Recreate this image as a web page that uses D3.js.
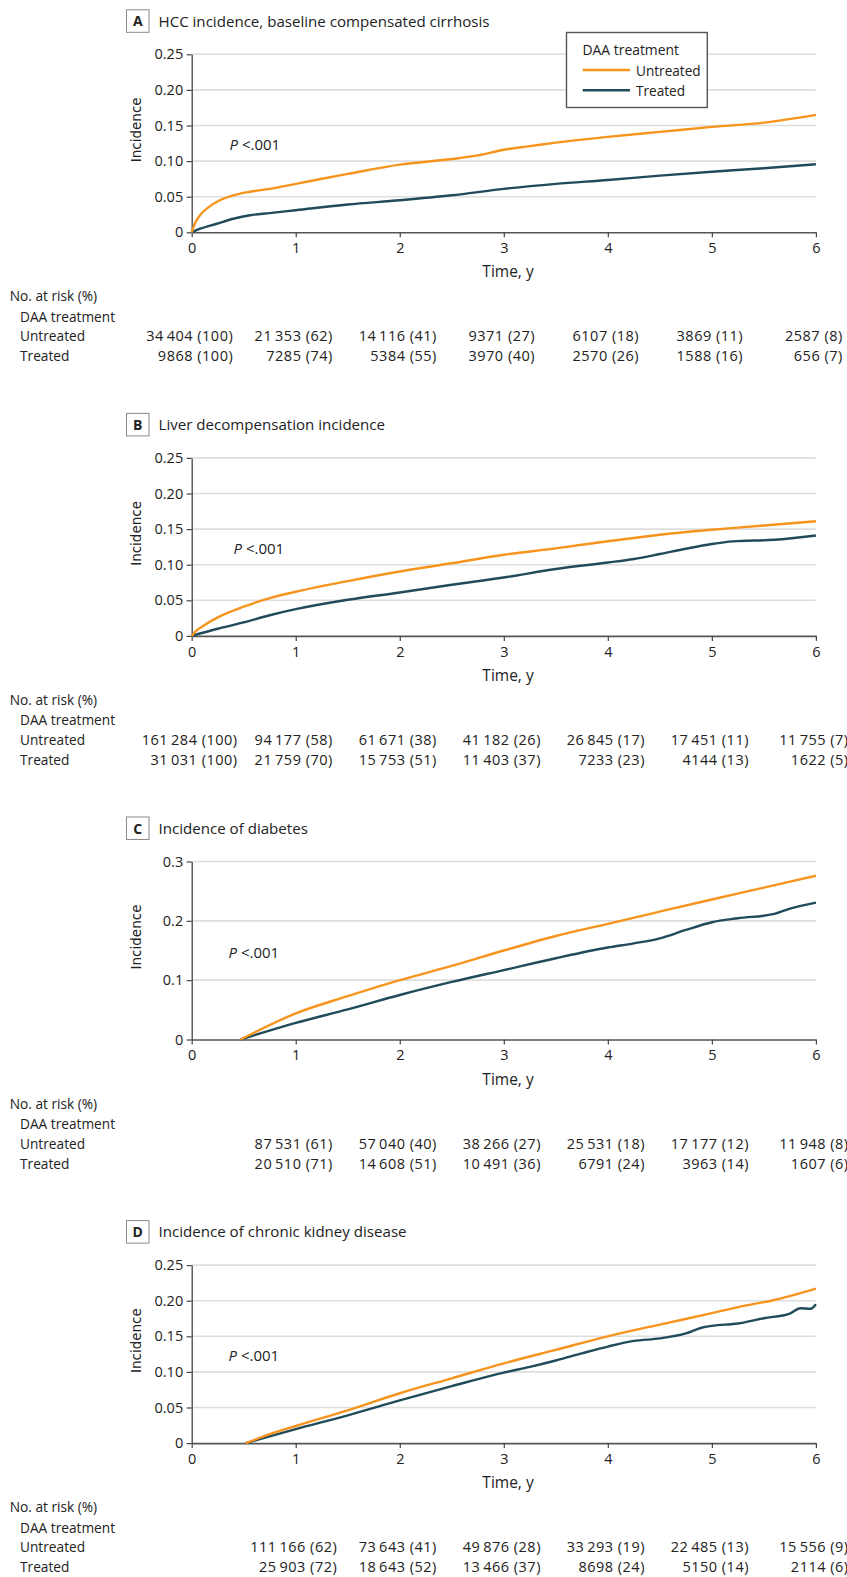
<!DOCTYPE html>
<html>
<head>
<meta charset="utf-8">
<script src="https://cdn.jsdelivr.net/npm/d3@7"></script>
<style>
  html, body { margin: 0; padding: 0; background: #fff; }
  svg text { font-family: "Open Sans", "Noto Sans", sans-serif; fill: #222; }
</style>
</head>
<body>
<script>
// ---------- DATA ----------
const timeTicks = [0, 1, 2, 3, 4, 5, 6];
const seriesNames = ["Untreated", "Treated"];

// Panel A: HCC incidence, baseline compensated cirrhosis
const hccUntreated = [[0,0],[0.03,0.012],[0.08,0.024],[0.16,0.035],[0.27,0.045],[0.4,0.052],[0.56,0.057],[0.75,0.061],[1,0.068],[1.5,0.082],[2,0.095],[2.5,0.103],[2.75,0.108],[3,0.116],[3.25,0.121],[3.5,0.126],[4,0.134],[4.5,0.141],[5,0.148],[5.5,0.154],[6,0.165]];
const hccTreated = [[0,0],[0.08,0.005],[0.24,0.012],[0.4,0.019],[0.56,0.024],[0.75,0.027],[1,0.031],[1.5,0.039],[2,0.045],[2.5,0.052],[3,0.061],[3.5,0.068],[4,0.0735],[4.5,0.0796],[5,0.085],[5.5,0.090],[6,0.0955]];
const hccRiskUntreated = [[34404,100],[21353,62],[14116,41],[9371,27],[6107,18],[3869,11],[2587,8]];
const hccRiskTreated = [[9868,100],[7285,74],[5384,55],[3970,40],[2570,26],[1588,16],[656,7]];

// Panel B: Liver decompensation incidence
const liverUntreated = [[0,0],[0.05,0.008],[0.1,0.013],[0.25,0.026],[0.5,0.041],[0.75,0.053],[1,0.062],[1.5,0.077],[2,0.0905],[2.5,0.102],[3,0.114],[3.5,0.123],[4,0.133],[4.5,0.142],[4.75,0.146],[5,0.149],[5.5,0.155],[6,0.161]];
const liverTreated = [[0,0],[0.25,0.01],[0.5,0.019],[0.75,0.029],[1,0.0375],[1.5,0.0507],[2,0.061],[2.5,0.0718],[3,0.082],[3.5,0.094],[4,0.103],[4.25,0.108],[4.5,0.115],[4.75,0.1224],[5,0.129],[5.2,0.1327],[5.6,0.135],[6,0.141]];
const liverRiskUntreated = [[161284,100],[94177,58],[61671,38],[41182,26],[26845,17],[17451,11],[11755,7]];
const liverRiskTreated = [[31031,100],[21759,70],[15753,51],[11403,37],[7233,23],[4144,13],[1622,5]];

// Panel C: Incidence of diabetes
const diabetesUntreated = [[0.47,0],[1,0.044],[1.5,0.073],[2,0.100],[2.5,0.124],[3,0.150],[3.5,0.1745],[4,0.195],[4.5,0.2156],[5,0.236],[5.5,0.256],[6,0.276]];
const diabetesTreated = [[0.47,0],[1,0.028],[1.5,0.0507],[2,0.075],[2.5,0.097],[3,0.117],[3.5,0.137],[4,0.155],[4.25,0.162],[4.5,0.1705],[4.75,0.1846],[5,0.1976],[5.25,0.2043],[5.6,0.2116],[5.75,0.2206],[6,0.2308]];
const diabetesRiskUntreated = [null,[87531,61],[57040,40],[38266,27],[25531,18],[17177,12],[11948,8]];
const diabetesRiskTreated = [null,[20510,71],[14608,51],[10491,36],[6791,24],[3963,14],[1607,6]];

// Panel D: Incidence of chronic kidney disease
const ckdUntreated = [[0.52,0],[0.75,0.0125],[1,0.024],[1.5,0.046],[2,0.070],[2.5,0.091],[3,0.112],[3.5,0.131],[4,0.150],[4.5,0.1665],[5,0.1825],[5.25,0.191],[5.6,0.201],[6,0.217]];
const ckdTreated = [[0.52,0],[1,0.0197],[1.5,0.039],[1.75,0.0495],[2,0.06],[2.5,0.08],[3,0.099],[3.25,0.107],[3.5,0.116],[3.75,0.126],[4,0.1356],[4.25,0.1435],[4.5,0.147],[4.75,0.154],[4.9,0.162],[5,0.1646],[5.25,0.168],[5.5,0.1754],[5.75,0.182],[5.85,0.1895],[5.95,0.1886],[6,0.195]];
const ckdRiskUntreated = [null,[111166,62],[73643,41],[49876,28],[33293,19],[22485,13],[15556,9]];
const ckdRiskTreated = [null,[25903,72],[18643,52],[13466,37],[8698,24],[5150,14],[2114,6]];

const yTicks25 = [0, 0.05, 0.10, 0.15, 0.20, 0.25];
const yTicks30 = [0, 0.1, 0.2, 0.3];

const panels = [
  {letter: "A", title: "HCC incidence, baseline compensated cirrhosis", ymax: 0.25, yTicks: yTicks25, fmt: ".2f",
   untreated: hccUntreated, treated: hccTreated, riskU: hccRiskUntreated, riskT: hccRiskTreated, pX: 229.5, legend: true},
  {letter: "B", title: "Liver decompensation incidence", ymax: 0.25, yTicks: yTicks25, fmt: ".2f",
   untreated: liverUntreated, treated: liverTreated, riskU: liverRiskUntreated, riskT: liverRiskTreated, pX: 233.5, legend: false},
  {letter: "C", title: "Incidence of diabetes", ymax: 0.3, yTicks: yTicks30, fmt: ".1f",
   untreated: diabetesUntreated, treated: diabetesTreated, riskU: diabetesRiskUntreated, riskT: diabetesRiskTreated, pX: 228.5, legend: false},
  {letter: "D", title: "Incidence of chronic kidney disease", ymax: 0.25, yTicks: yTicks25, fmt: ".2f",
   untreated: ckdUntreated, treated: ckdTreated, riskU: ckdRiskUntreated, riskT: ckdRiskTreated, pX: 228.5, legend: false}
];

// ---------- STYLE / LAYOUT ----------
const W = 847, H = 1577;
const ORANGE = "#F7941D", TEAL = "#1F4B5A";
const FONT = 14.5;
const panelStep = 403.6;
const plotTop0 = 54.3, plotH = 178;
const xLeft = 191.7, xRight = 815.9;

const svg = d3.select("body").append("svg")
  .attr("width", W).attr("height", H)
  .attr("viewBox", `0 0 ${W} ${H}`);
svg.append("rect").attr("width", W).attr("height", H).attr("fill", "#fff");

const x = d3.scaleLinear().domain([0, 6]).range([xLeft, xRight]);

function fmtNum(n) {
  if (n >= 10000) {
    const s = String(n);
    return s.slice(0, s.length - 3) + "\u2009" + s.slice(s.length - 3);
  }
  return String(n);
}

panels.forEach((p, i) => {
  const top = plotTop0 + i * panelStep;
  const bottom = top + plotH;
  const y = d3.scaleLinear().domain([0, p.ymax]).range([bottom, top]);
  const g = svg.append("g");

  // Title box + title
  const boxTop = top - 44.5;
  g.append("rect").attr("x", 126.5).attr("y", boxTop).attr("width", 22.5).attr("height", 22.5)
    .attr("fill", "#fff").attr("stroke", "#8a8a8a").attr("stroke-width", 1);
  g.append("text").attr("x", 137.75).attr("y", boxTop + 16.5).attr("text-anchor", "middle")
    .attr("font-weight", "bold").attr("font-size", 14).text(p.letter);
  g.append("text").attr("x", 158.5).attr("y", boxTop + 16.7).attr("font-size", 15.1).text(p.title);

  // Gridlines
  g.append("g").selectAll("line").data(p.yTicks.filter(d => d > 0)).join("line")
    .attr("x1", xLeft).attr("x2", xRight)
    .attr("y1", d => y(d)).attr("y2", d => y(d))
    .attr("stroke", "#dedede").attr("stroke-width", 1.6);

  // Y axis
  const yAxis = g.append("g").attr("transform", `translate(${xLeft},0)`)
    .call(d3.axisLeft(y).tickValues(p.yTicks).tickSize(5).tickSizeOuter(0).tickPadding(3.5)
      .tickFormat(d => d === 0 ? "0" : d3.format(p.fmt)(d)));
  yAxis.select(".domain").attr("stroke", "#444").attr("stroke-width", 1.3);
  yAxis.selectAll(".tick line").attr("stroke", "#444").attr("stroke-width", 1.2);
  yAxis.selectAll(".tick text").attr("font-size", FONT).attr("font-family", '"Open Sans", sans-serif').attr("fill", "#222");

  // X axis
  const xAxis = g.append("g").attr("transform", `translate(0,${bottom})`)
    .call(d3.axisBottom(x).tickValues(timeTicks).tickSize(5).tickSizeOuter(0).tickPadding(5.5).tickFormat(d3.format("d")));
  xAxis.select(".domain").attr("stroke", "#555").attr("stroke-width", 1.6);
  xAxis.selectAll(".tick line").attr("stroke", "#444").attr("stroke-width", 1.2);
  xAxis.selectAll(".tick text").attr("font-size", FONT).attr("font-family", '"Open Sans", sans-serif').attr("fill", "#222");

  // Axis titles
  g.append("text").attr("x", 508).attr("y", bottom + 45).attr("text-anchor", "middle")
    .attr("font-size", 15.5).text("Time, y");
  g.append("text").attr("transform", `translate(141,${(top + bottom) / 2 - 13.5}) rotate(-90)`)
    .attr("text-anchor", "middle").attr("font-size", 13.5)
    .style("font-family", '"DejaVu Sans", sans-serif').text("Incidence");

  // P value
  const pt = g.append("text").attr("x", p.pX).attr("y", bottom - 82).attr("font-size", 15);
  pt.append("tspan").attr("font-style", "italic").text("P");
  pt.append("tspan").text(" <.001");

  // Curves
  const line = d3.line().x(d => x(d[0])).y(d => y(d[1])).curve(d3.curveMonotoneX);
  g.append("path").datum(p.treated).attr("d", line).attr("fill", "none")
    .attr("stroke", TEAL).attr("stroke-width", 2.4).attr("stroke-linejoin", "round");
  g.append("path").datum(p.untreated).attr("d", line).attr("fill", "none")
    .attr("stroke", ORANGE).attr("stroke-width", 2.4).attr("stroke-linejoin", "round");

  // Legend
  if (p.legend) {
    const lg = g.append("g");
    lg.append("rect").attr("x", 566.5).attr("y", 32.5).attr("width", 140.8).attr("height", 75)
      .attr("fill", "#fff").attr("stroke", "#555").attr("stroke-width", 1.4);
    lg.append("text").attr("x", 582.5).attr("y", 54.7).attr("font-size", 13.9).text("DAA treatment");
    [[ORANGE, 70, seriesNames[0]], [TEAL, 90.3, seriesNames[1]]].forEach(([c, ly, name]) => {
      lg.append("line").attr("x1", 582.7).attr("x2", 630).attr("y1", ly).attr("y2", ly)
        .attr("stroke", c).attr("stroke-width", 2.4);
      lg.append("text").attr("x", 636).attr("y", ly + 5.6).attr("font-size", 13.6).text(name);
    });
  }

  // Risk table
  const LBL = 13.7, NUM = 14.5;
  const rt = g.append("g");
  rt.append("text").attr("x", 9.7).attr("y", bottom + 69).attr("font-size", LBL).text("No. at risk (%)");
  rt.append("text").attr("x", 20).attr("y", bottom + 89.5).attr("font-size", LBL).text("DAA treatment");
  rt.append("text").attr("x", 20).attr("y", bottom + 109).attr("font-size", LBL).text(seriesNames[0]);
  rt.append("text").attr("x", 20).attr("y", bottom + 129).attr("font-size", LBL).text(seriesNames[1]);
  timeTicks.forEach((t, j) => {
    const u = p.riskU[j], tr = p.riskT[j];
    if (!u) return;
    const cg = rt.append("g");
    const t1 = cg.append("text").attr("y", bottom + 109).attr("font-size", NUM).attr("text-anchor", "end")
      .attr("letter-spacing", 0.5).text(`${fmtNum(u[0])} (${u[1]})`);
    const t2 = cg.append("text").attr("y", bottom + 129).attr("font-size", NUM).attr("text-anchor", "end")
      .attr("letter-spacing", 0.5).text(`${fmtNum(tr[0])} (${tr[1]})`);
    const wmax = Math.max(t1.node().getComputedTextLength(), t2.node().getComputedTextLength());
    const xr = x(t) - 2 + wmax / 2;
    t1.attr("x", xr); t2.attr("x", xr);
  });
});
</script>
</body>
</html>
